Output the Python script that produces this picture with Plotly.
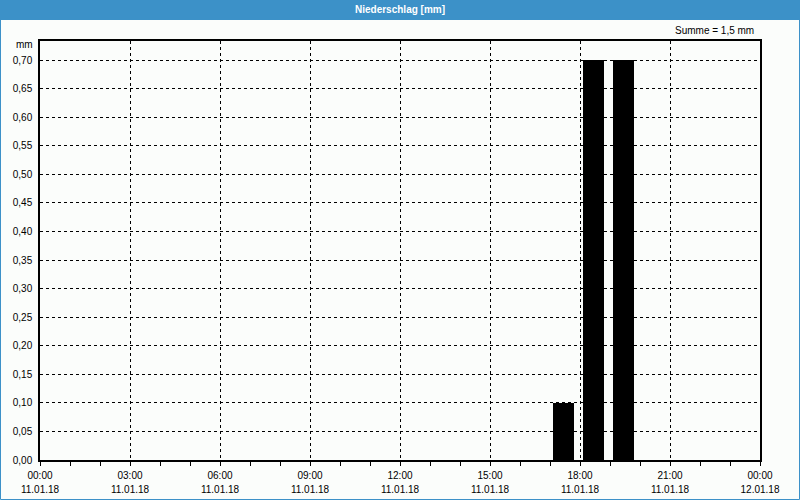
import plotly.graph_objects as go

# ---- data ----
bar_times = ["2018-01-11 17:27", "2018-01-11 18:27", "2018-01-11 19:27"]
bar_values = [0.10, 0.70, 0.70]
bar_width_ms = 0.7 * 3600 * 1000

tick_times = ["2018-01-11 00:00", "2018-01-11 03:00", "2018-01-11 06:00", "2018-01-11 09:00",
              "2018-01-11 12:00", "2018-01-11 15:00", "2018-01-11 18:00", "2018-01-11 21:00",
              "2018-01-12 00:00"]
tick_hours = ["00:00", "03:00", "06:00", "09:00", "12:00", "15:00", "18:00", "21:00", "00:00"]
tick_dates = ["11.01.18"] * 8 + ["12.01.18"]
y_ticks = [0.0, 0.05, 0.10, 0.15, 0.20, 0.25, 0.30, 0.35, 0.40, 0.45, 0.50, 0.55, 0.60, 0.65, 0.70]
title_text = "Niederschlag [mm]"
sum_text = "Summe = 1,5 mm"

FONT = "Liberation Sans"
BG = "#fbfdfb"
BLUE = "#3c91c8"

fig = go.Figure()
fig.add_trace(go.Bar(x=bar_times, y=bar_values, width=[bar_width_ms] * len(bar_values),
                     marker=dict(color="black", line=dict(width=0, color="black")), showlegend=False))
# invisible trace for the second (date) axis
fig.add_trace(go.Scatter(x=[tick_times[0], tick_times[-1]], y=[0, 0], xaxis="x2",
                         mode="markers", marker=dict(opacity=0), showlegend=False, hoverinfo="skip"))

W, H = 800, 500
L, R, T, B = 40, 40, 41, 40
pw, ph = W - L - R, H - T - B

def px(x):
    return (x - L) / pw

def py(y):
    return (H - B - y) / ph

fig.update_layout(
    width=W, height=H,
    margin=dict(l=L, r=R, t=T, b=B, autoexpand=False),
    paper_bgcolor=BG, plot_bgcolor=BG,
    separators=",.",
    font=dict(family=FONT, size=10, color="black"),
    bargap=0,
    xaxis=dict(
        type="date", range=[tick_times[0], tick_times[-1]],
        tickmode="array", tickvals=tick_times, ticktext=tick_hours,
        showgrid=True, gridcolor="black", griddash="3px,3px", gridwidth=1,
        showline=True, linecolor="black", linewidth=1.5, mirror=True,
        ticks="outside", ticklen=4, tickcolor="black",
        minor=dict(dtick=3600000, ticks="outside", ticklen=4, tickcolor="black", showgrid=False),
        ticklabelstandoff=1, zeroline=False, automargin=False,
    ),
    xaxis2=dict(
        type="date", overlaying="x", matches="x", side="bottom", anchor="y",
        tickmode="array", tickvals=tick_times, ticktext=tick_dates,
        showgrid=False, showline=False, ticks="", ticklabelstandoff=22, zeroline=False,
        automargin=False,
    ),
    yaxis=dict(
        range=[0, 0.7 + 19 / (400 / 0.7)],
        tickmode="array", tickvals=y_ticks, tickformat=".2f",
        showgrid=True, gridcolor="black", griddash="3px,3px", gridwidth=1,
        showline=True, linecolor="black", linewidth=1.5, mirror=True,
        ticks="", ticklabelstandoff=4, zeroline=False, automargin=False,
    ),
    shapes=[
        dict(type="rect", xref="paper", yref="paper", x0=px(0), x1=px(800), y0=py(20), y1=py(0),
             fillcolor=BLUE, line=dict(width=0), layer="above"),
        dict(type="rect", xref="paper", yref="paper", x0=px(0.5), x1=px(799.5), y0=py(499.5), y1=py(0.5),
             line=dict(color=BLUE, width=1), fillcolor="rgba(0,0,0,0)", layer="above"),
    ],
    annotations=[
        dict(text="<b>" + title_text + "</b>", xref="paper", yref="paper", x=px(400), y=py(10),
             showarrow=False, xanchor="center", yanchor="middle",
             font=dict(family=FONT, size=10, color="white")),
        dict(text=sum_text, xref="paper", yref="paper", x=px(756), y=py(30),
             showarrow=False, xanchor="right", yanchor="middle", font=dict(family=FONT, size=10)),
        dict(text="mm", xref="paper", yref="paper", x=px(35), y=py(45),
             showarrow=False, xanchor="right", yanchor="middle", font=dict(family=FONT, size=10)),
    ],
)

fig.write_html("out.html")
